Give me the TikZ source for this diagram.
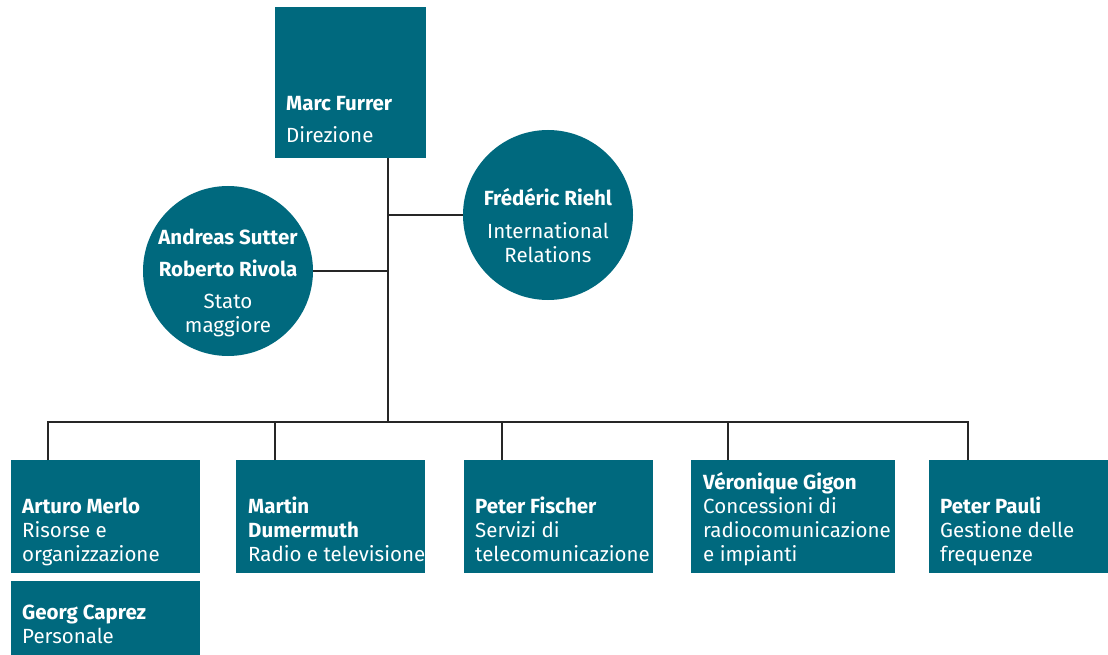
\documentclass[tikz,border=0pt]{standalone}
\usepackage{fontspec}
\setmainfont{Fira Sans}
\usepackage{tikz}
\definecolor{ofcom}{RGB}{0,105,126}

\tikzset{
  unit/.style={rectangle, fill=ofcom, inner sep=0pt, anchor=north west},
  chief/.style={circle, fill=ofcom, inner sep=0pt, minimum size=170pt},
  who/.style={text=white, inner sep=0pt, font=\fontsize{20.5}{24}\selectfont},
  link/.style={black!85, line width=1.1pt}
}

\begin{document}
\begin{tikzpicture}[x=1pt, y=-1pt]
\useasboundingbox (0,0) rectangle (1108,655);
% Direzione
\node[unit, minimum width=151pt, minimum height=151pt] (dir) at (275,7) {};
\node[who, align=left, anchor=base west] (dirtxt) at (286,143) {\textbf{Marc Furrer}\\[8pt]Direzione};
% Cerchi
\node[chief] (stab) at (228,271) {};
\node[who, align=center, anchor=base] (stabtxt) at (228,332) {\textbf{Andreas Sutter}\\[8pt]\textbf{Roberto Rivola}\\[8pt]Stato\\maggiore};
\node[chief] (intl) at (548,215) {};
\node[who, align=center, anchor=base] (intltxt) at (548,262) {\textbf{Frédéric Riehl}\\[9pt]International\\Relations};
% Divisioni
\node[unit, minimum width=189pt, minimum height=113pt] (ris) at (11,460) {};
\node[unit, minimum width=189pt, minimum height=74pt] (pers) at (11,581) {};
\node[unit, minimum width=189pt, minimum height=113pt] (rtv) at (236,460) {};
\node[unit, minimum width=189pt, minimum height=113pt] (tel) at (464,460) {};
\node[unit, minimum width=204pt, minimum height=113pt] (conc) at (691,460) {};
\node[unit, minimum width=179pt, minimum height=113pt] (freq) at (929,460) {};
\node[who, align=left, anchor=base west] (ristxt) at (22,561) {\textbf{Arturo Merlo}\\Risorse e\\organizzazione};
\node[who, align=left, anchor=base west] (perstxt) at (22,643) {\textbf{Georg Caprez}\\Personale};
\node[who, align=left, anchor=base west] (rtvtxt) at (248,561) {\textbf{Martin}\\\textbf{Dumermuth}\\Radio e televisione};
\node[who, align=left, anchor=base west] (teltxt) at (475,561) {\textbf{Peter Fischer}\\Servizi di\\telecomunicazione};
\node[who, align=left, anchor=base west] (conctxt) at (703,561) {\textbf{Véronique Gigon}\\Concessioni di\\radiocomunicazione\\e impianti};
\node[who, align=left, anchor=base west] (freqtxt) at (940,561) {\textbf{Peter Pauli}\\Gestione delle\\frequenze};
% Linee
\coordinate (bus) at (388,422);
\draw[link] (dir.south -| bus) -- (bus);
\draw[link] (intl.west) -- (intl.west -| bus);
\draw[link] (stab.east) -- (stab.east -| bus);
\draw[link] ([xshift=37pt]ris.north west) |- (bus);
\draw[link] ([xshift=39pt]freq.north west) |- (bus);
\draw[link] ([xshift=39pt]rtv.north west) -- ++(0,-38);
\draw[link] ([xshift=38pt]tel.north west) -- ++(0,-38);
\draw[link] ([xshift=37pt]conc.north west) -- ++(0,-38);
\end{tikzpicture}
\end{document}
